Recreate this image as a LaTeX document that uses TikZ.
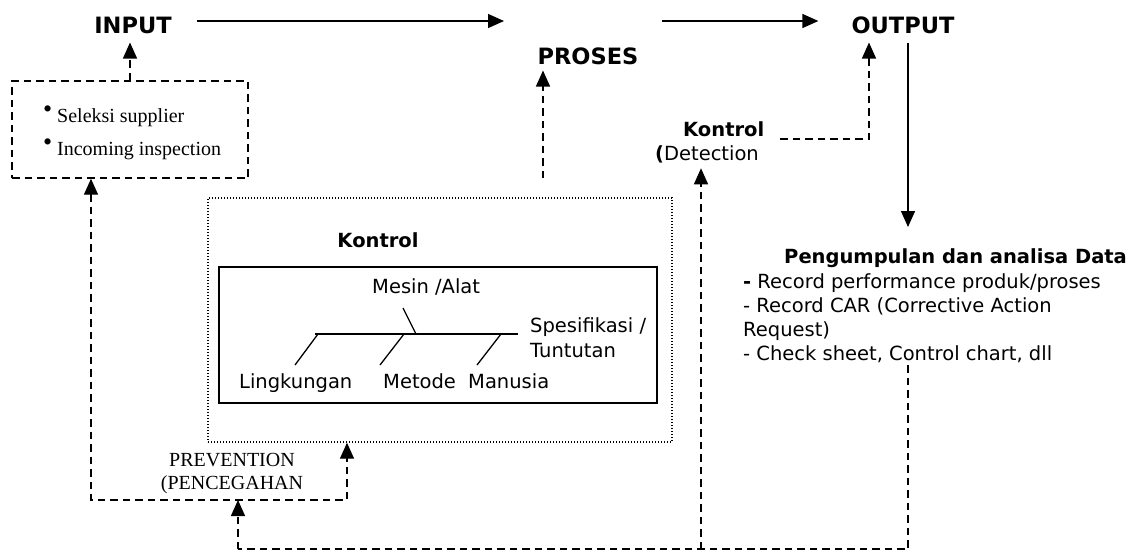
\documentclass[tikz,border=0pt]{standalone}
\usepackage{fontspec}
\setmainfont{Liberation Serif}
\newfontfamily\vsans{DejaVu Sans}
\usetikzlibrary{arrows.meta,calc}

% raised bullet for the supplier list
\newcommand\bul{\raisebox{4.5pt}{\makebox[14pt][l]{\scalebox{1.3}{\textbullet}}}}

\tikzset{
  head/.style={font=\vsans\bfseries\fontsize{22.5}{27}\selectfont, inner sep=0pt, anchor=base},
  lbl/.style={font=\vsans\fontsize{19.5}{24}\selectfont, inner sep=0pt, anchor=base west},
  blbl/.style={font=\vsans\bfseries\fontsize{19.5}{24}\selectfont, inner sep=0pt, anchor=base west},
  serif/.style={font=\fontsize{20}{24}\selectfont, inner sep=0pt},
  tip/.style={-{Triangle[length=16pt,width=14pt]}},
  flow/.style={line width=1.4pt, tip},
  dashline/.style={line width=1.4pt, dash pattern=on 7.5pt off 5pt},
  darrow/.style={dashline, tip},
  twoway/.style={dashline, {Triangle[length=16pt,width=14pt]}-{Triangle[length=16pt,width=14pt]}},
  dotbox/.style={draw, line width=1.4pt, dash pattern=on 1.4pt off 1.6pt},
}

\begin{document}
\begin{tikzpicture}[x=1pt,y=-1pt]
\useasboundingbox (0,0) rectangle (1138,550);

% main flow
\node[head] (in)  at (133,33) {INPUT};
\node[head] (pr)  at (588,64) {PROSES};
\node[head] (out) at (903,33) {OUTPUT};
\coordinate (f1) at (504,21);
\coordinate (f2) at (662,21);
\draw[flow, shorten <=25pt] (in.east |- f1) -- (f1);
\draw[flow, shorten >=33pt] (f2) -- (out.west |- f2);

% input controls
\node[draw, dashline, minimum width=236pt, minimum height=97pt, inner sep=0pt] (inbox) at (130,129.5) {};
\node[serif, anchor=base west] (s1) at (43,122) {\bul Seleksi supplier};
\node[serif, anchor=base west] (s2) at (43,155) {\bul Incoming inspection};
\draw[darrow, shorten >=9pt] (inbox.north) -- (inbox.north |- in.south);

% process controls
\node[dotbox, minimum width=464pt, minimum height=244pt, inner sep=0pt] (proc) at (440,320) {};
\node[blbl, anchor=base] (kt) at (378,247) {Kontrol};
\node[draw, line width=1.9pt, minimum width=438pt, minimum height=136pt, inner sep=0pt] (fish) at (438,335) {};
\draw[line width=1.3pt] (315,334) -- (518,334);
\draw[line width=1.3pt] (403,308) -- (416,334);
\draw[line width=1.3pt] (318,334) -- (295,365);
\draw[line width=1.3pt] (404,334) -- (380,365);
\draw[line width=1.3pt] (501,334) -- (477,365);
\node[lbl] (mesin) at (372,293) {Mesin /Alat};
\node[lbl] (spec1) at (530,332) {Spesifikasi /};
\node[lbl] (spec2) at (530,357) {Tuntutan};
\node[lbl] (lingk) at (239,388) {Lingkungan};
\node[lbl] (metod) at (383,388) {Metode};
\node[lbl] (manus) at (468,388) {Manusia};
\coordinate (pp) at (543,198);
\draw[darrow, shorten <=20pt, shorten >=6pt] (pp) -- (pp |- pr.south);

% output detection
\node[blbl] (detk) at (683,136) {Kontrol};
\node[lbl]  (detd) at (655,160) {\textbf{(}Detection};
\coordinate (dk)  at (780,139);
\coordinate (dko) at (869,139);
\draw[darrow, shorten >=9pt] (dk) -- (dko) -- (dko |- out.south);

% data collection
\coordinate (dtop) at (908,227);
\draw[flow, shorten <=9pt] (out.south -| dtop) -- (dtop);
\node[blbl] (dt) at (784,263) {Pengumpulan dan analisa Data};
\node[lbl] (d1) at (743,288) {\textbf{-} Record performance produk/proses};
\node[lbl] (d2) at (743,312) {- Record CAR (Corrective Action};
\node[lbl] (d3) at (743,336) {Request)};
\node[lbl] (d4) at (743,360) {- Check sheet, Control chart, dll};

% feedback loop
\coordinate (dbot) at (908,365);
\coordinate (c1) at (908,549);
\coordinate (c2) at (238,549);
\coordinate (c3) at (701,549);
\draw[dashline] (dbot) -- (c1) -- (c2);
\draw[darrow, shorten >=5.5pt] (c3) -- (c3 |- detd.south);

% prevention
\coordinate (pl) at (91,500);
\coordinate (pq) at (347,500);
\draw[twoway] (pl |- inbox.south) -- (pl) -- (pq) -- (pq |- proc.south);
\draw[darrow] (c2) -- (c2 |- pl);
\node[serif, anchor=base] (pv1) at (232,466) {PREVENTION};
\node[serif, anchor=base] (pv2) at (232,489) {(PENCEGAHAN};
\end{tikzpicture}
\end{document}
